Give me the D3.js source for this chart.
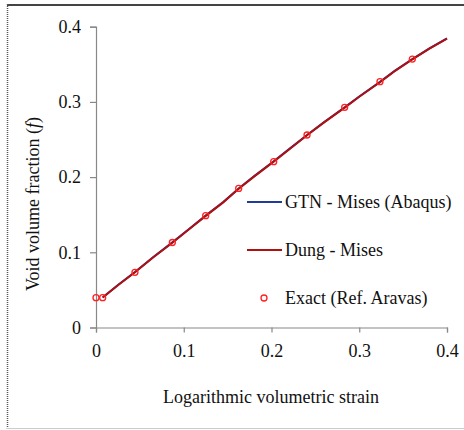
<!DOCTYPE html>
<html><head><meta charset="utf-8">
<script src="https://cdn.jsdelivr.net/npm/d3@7"></script>
<style>body{margin:0;background:#fff}svg{display:block}</style>
</head><body>
<script>
const xTicks = [0, 0.1, 0.2, 0.3, 0.4];
const yTicks = [0, 0.1, 0.2, 0.3, 0.4];
const exactX = [0, 0.0076, 0.0444, 0.087, 0.125, 0.1626, 0.2025, 0.2405, 0.2834, 0.3236, 0.3605];
const exactY = [0.0396, 0.0396, 0.0734, 0.113, 0.1487, 0.185, 0.2205, 0.256, 0.2928, 0.3269, 0.357];
const gtnX = [0.0076, 0.025, 0.0444, 0.065, 0.087, 0.105, 0.125, 0.145, 0.1626, 0.18, 0.2025, 0.22, 0.2405, 0.26, 0.2834, 0.30, 0.3236, 0.34, 0.3605, 0.38, 0.4];
const gtnY = [0.0400, 0.0565, 0.0738, 0.0935, 0.1132, 0.1300, 0.1488, 0.1668, 0.1848, 0.2010, 0.2210, 0.2372, 0.2560, 0.2732, 0.2928, 0.3072, 0.3266, 0.3410, 0.3570, 0.3712, 0.3846];
const dungY = [0.0398, 0.0562, 0.0735, 0.0932, 0.1128, 0.1296, 0.1484, 0.1664, 0.1844, 0.2006, 0.2206, 0.2368, 0.2556, 0.2728, 0.2924, 0.3068, 0.3262, 0.3406, 0.3566, 0.3708, 0.3842];
const legendLabels = ["GTN - Mises (Abaqus)", "Dung - Mises", "Exact (Ref. Aravas)"];

const FONT = "'Liberation Serif', 'Times New Roman', 'DejaVu Serif', serif";
const W = 464, H = 430;
const svg = d3.select("body").append("svg").attr("width", W).attr("height", H)
  .style("font-family", FONT);

// frame
svg.append("line").attr("x1", 7).attr("x2", W).attr("y1", 5).attr("y2", 5).attr("stroke", "#444").attr("stroke-width", 2);
svg.append("line").attr("x1", 7.5).attr("x2", 7.5).attr("y1", 4).attr("y2", 429).attr("stroke", "#555").attr("stroke-width", 1.5).attr("stroke-dasharray", "1,1");
svg.append("line").attr("x1", 7).attr("x2", W).attr("y1", 428.5).attr("y2", 428.5).attr("stroke", "#ccc").attr("stroke-width", 1);

const x = d3.scaleLinear().domain([0, 0.4]).range([96, 447]);
const y = d3.scaleLinear().domain([0, 0.4]).range([327.5, 26.7]);

const fmt = d => d === 0 ? "0" : d3.format(".1f")(d);
const xAxis = svg.append("g").attr("transform", `translate(0,${y(0)})`)
  .call(d3.axisBottom(x).tickValues(xTicks).tickSize(5).tickPadding(12).tickFormat(fmt));
const yAxis = svg.append("g").attr("transform", `translate(${x(0)},0)`)
  .call(d3.axisLeft(y).tickValues(yTicks).tickSize(6).tickPadding(9).tickFormat(fmt));
[xAxis, yAxis].forEach(g => {
  g.attr("font-family", null).attr("font-size", null);
  g.select(".domain").attr("stroke", "#888").attr("stroke-width", 1.2);
  g.selectAll(".tick line").attr("stroke", "#888").attr("stroke-width", 1.2);
  g.selectAll(".tick text").style("font-family", FONT).style("font-size", "18px").attr("fill", "#111");
});

const lineGen = d3.line().x(d => x(d[0])).y(d => y(d[1]));
svg.append("path").datum(gtnX.map((v, i) => [v, gtnY[i]]))
  .attr("d", lineGen).attr("fill", "none").attr("stroke", "#1f3b9c").attr("stroke-width", 2);
svg.append("path").datum(gtnX.map((v, i) => [v, dungY[i]]))
  .attr("d", lineGen).attr("fill", "none").attr("stroke", "#b01010").attr("stroke-width", 2);

svg.append("g").selectAll("circle").data(exactX.map((v, i) => [v, exactY[i]])).join("circle")
  .attr("cx", d => x(d[0])).attr("cy", d => y(d[1])).attr("r", 3)
  .attr("fill", "none").attr("stroke", "#ff2020").attr("stroke-width", 1.3);

// legend
const lg = svg.append("g");
const ly = [202, 250, 298];
lg.append("line").attr("x1", 247).attr("x2", 282).attr("y1", ly[0]).attr("y2", ly[0]).attr("stroke", "#1f3b9c").attr("stroke-width", 2);
lg.append("line").attr("x1", 247).attr("x2", 282).attr("y1", ly[1]).attr("y2", ly[1]).attr("stroke", "#b01010").attr("stroke-width", 2);
lg.append("circle").attr("cx", 264).attr("cy", ly[2]).attr("r", 3).attr("fill", "none").attr("stroke", "#ff2020").attr("stroke-width", 1.3);
legendLabels.forEach((t, i) => {
  lg.append("text").attr("x", 285).attr("y", ly[i] + 6).style("font-family", FONT).style("font-size", "18px").attr("fill", "#111").text(t);
});

// axis titles
svg.append("text").attr("x", 271).attr("y", 403).attr("text-anchor", "middle").style("font-family", FONT).style("font-size", "18px").attr("fill", "#111").text("Logarithmic volumetric strain");
const yt = svg.append("text").attr("transform", "translate(39,204) rotate(-90)").attr("text-anchor", "middle").style("font-family", FONT).style("font-size", "18px").attr("fill", "#111");
yt.append("tspan").text("Void volume fraction (");
yt.append("tspan").attr("font-style", "italic").text("f");
yt.append("tspan").text(")");
</script>
</body></html>
